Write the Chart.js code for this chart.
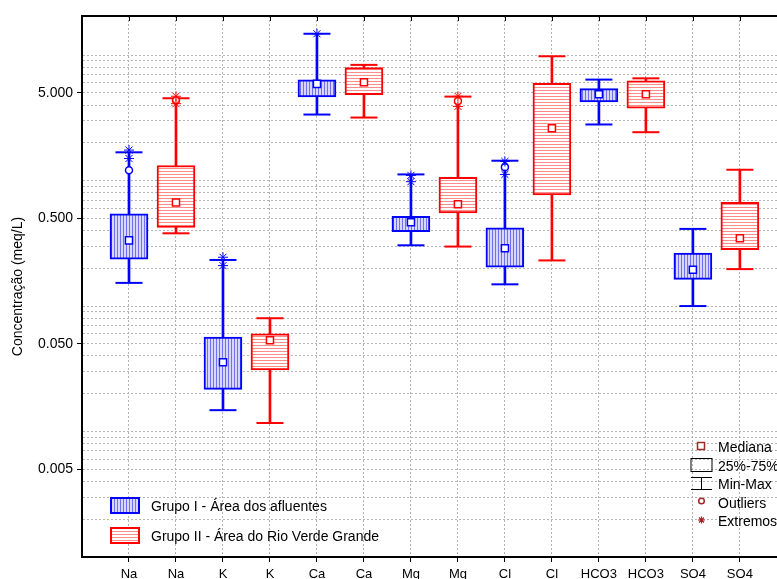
<!DOCTYPE html>
<html>
<head>
<meta charset="utf-8">
<script src="https://cdn.jsdelivr.net/npm/chart.js@4.4.0/dist/chart.umd.min.js"></script>
<style>
  html, body { margin: 0; padding: 0; background: #fff; }
  #wrap { width: 777px; height: 579px; }
</style>
</head>
<body>
<div id="wrap"><canvas id="chartCanvas" width="777" height="579"></canvas></div>
<script>
const ions = ["Na", "K", "Ca", "Mg", "Cl", "HCO3", "SO4"];
const xTickLabels = ["Na", "Na", "K", "K", "Ca", "Ca", "Mg", "Mg", "Cl", "Cl", "HCO3", "HCO3", "SO4", "SO4"];
const yTickValues = [0.005, 0.05, 0.5, 5];
const yTickLabels = ["0.005", "0.050", "0.500", "5.000"];
const groupNames = ["Grupo I - Área dos afluentes", "Grupo II - Área do Rio Verde Grande"];
const symbolNames = ["Mediana", "25%-75%", "Min-Max", "Outliers", "Extremos"];

// Grupo I (azul)
const g1Min = [0.153, 0.0148, 3.36, 0.305, 0.149, 2.80, 0.100];
const g1Q1  = [0.236, 0.0217, 4.65, 0.392, 0.204, 4.24, 0.163];
const g1Med = [0.334, 0.0357, 5.90, 0.466, 0.289, 4.87, 0.195];
const g1Q3  = [0.543, 0.0565, 6.35, 0.520, 0.420, 5.41, 0.264];
const g1Max = [1.68, 0.233, 14.8, 1.12, 1.44, 6.38, 0.412];
const g1Outliers = [[1.21], [], [], [], [1.28], [], []];
const g1Extremes = [[1.75, 1.50], [0.245, 0.21], [14.8], [1.10, 0.98], [1.42, 1.12], [], []];

// Grupo II (vermelho)
const g2Min = [0.380, 0.0117, 3.18, 0.298, 0.231, 2.43, 0.197];
const g2Q1  = [0.423, 0.0310, 4.85, 0.553, 0.769, 3.77, 0.281];
const g2Med = [0.668, 0.0534, 6.07, 0.648, 2.61, 4.87, 0.347];
const g2Q3  = [1.32, 0.0601, 7.95, 1.06, 5.96, 6.23, 0.672];
const g2Max = [4.53, 0.080, 8.36, 4.67, 9.79, 6.53, 1.22];
const g2Outliers = [[4.35], [], [], [4.3], [], [], []];
const g2Extremes = [[4.7, 4.1], [], [], [4.7, 3.9], [], [], []];

// linhas de grade do eixo log: 1..9 x 10^n
const yGridValues = [];
[0.001, 0.01, 0.1, 1, 10].forEach(d => {
    for (let m = 1; m <= 9; m++) {
        let v = +(m * d).toPrecision(2);
        if (v < 15) yGridValues.push(v);
    }
});

Chart.defaults.font.family = "'Liberation Sans', Arial, sans-serif";
Chart.defaults.color = "#000";

function hatch(vertical, bg, line) {
    let c = document.createElement("canvas");
    c.width = 3; c.height = 3;
    let g = c.getContext("2d");
    g.fillStyle = bg; g.fillRect(0, 0, 3, 3);
    g.fillStyle = line;
    if (vertical) g.fillRect(0, 0, 1, 3); else g.fillRect(0, 0, 3, 1);
    return g.createPattern(c, "repeat");
}
const bluePattern = hatch(true, "#d6d6ff", "#7070f0");
const redPattern = hatch(false, "#ffffff", "#ff8c8c");

function pos(i, g) { return 2 * i + g; }
function ranges(lo, hi, g) { return ions.map((_, i) => ({ x: pos(i, g), y: [lo[i], hi[i]] })); }
function points(vals, g) { return ions.map((_, i) => ({ x: pos(i, g), y: vals[i] })); }
function lists(ls, g) { return ls.flatMap((l, i) => l.map(v => ({ x: pos(i, g), y: v }))); }

function groupSets(name, color, pattern, g, min, q1, med, q3, max, outl, extr) {
    return [
        { type: "bar", label: name + " whisker", data: ranges(min, max, g), backgroundColor: color,
          borderWidth: 0, barThickness: 2, grouped: false, order: 5 },
        { type: "scatter", label: name + " caps", data: [...points(min, g), ...points(max, g)],
          pointStyle: "line", pointRadius: 13.5, pointBorderColor: color, pointBorderWidth: 2, order: 4 },
        { type: "bar", label: name, data: ranges(q1, q3, g), backgroundColor: pattern, borderColor: color,
          borderWidth: 2, borderSkipped: false, barThickness: 38, grouped: false, order: 3 },
        { type: "scatter", label: name + " mediana", data: points(med, g), pointStyle: "rect", pointRadius: 5,
          pointBackgroundColor: "#fff", pointBorderColor: color, pointBorderWidth: 1.5, order: 2 },
        { type: "scatter", label: name + " outliers", data: lists(outl, g), pointStyle: "circle", pointRadius: 3.5,
          pointBackgroundColor: "#fff", pointBorderColor: color, pointBorderWidth: 1.5, order: 1 },
        { type: "scatter", label: name + " extremos", data: lists(extr, g), pointStyle: "star", pointRadius: 5,
          pointBorderColor: color, pointBorderWidth: 1, order: 0 }
    ];
}

function isLabeled(v) {
    return yTickValues.findIndex(t => Math.abs(t - v) < t * 1e-6);
}

// moldura superior e legendas
const framePlugin = {
    id: "frame",
    afterDraw(chart) {
        const { ctx, chartArea: a, scales: { x } } = chart;
        ctx.save();
        ctx.strokeStyle = "#000";
        ctx.lineWidth = 2;
        ctx.beginPath(); ctx.moveTo(a.left - 1, a.top); ctx.lineTo(a.right, a.top); ctx.stroke();
        ctx.lineWidth = 1;
        xTickLabels.forEach((_, i) => {
            let px = Math.round(x.getPixelForValue(i + 1)) + 0.5;
            ctx.beginPath(); ctx.moveTo(px, a.top); ctx.lineTo(px, a.top + 5); ctx.stroke();
        });

        // legenda dos grupos
        ctx.font = "14px 'Liberation Sans', Arial, sans-serif";
        ctx.textBaseline = "middle";
        ctx.fillStyle = "#000";
        const sw = [[bluePattern, "#0000ff", a.bottom - 60], [redPattern, "#ff0000", a.bottom - 30]];
        sw.forEach(([pat, col, y], k) => {
            ctx.fillStyle = pat;
            ctx.fillRect(a.left + 28, y, 30, 17);
            ctx.strokeStyle = col; ctx.lineWidth = 2;
            ctx.strokeRect(a.left + 29, y + 1, 28, 15);
            ctx.fillStyle = "#000";
            ctx.fillText(groupNames[k], a.left + 69, y + 10);
        });

        // legenda dos simbolos
        const cx = a.right - 76, tx = a.right - 59;
        const ty = [a.bottom - 109, a.bottom - 90, a.bottom - 72, a.bottom - 53, a.bottom - 35];
        const dark = "#a02828";
        ctx.lineWidth = 1.5;
        ctx.strokeStyle = dark; ctx.fillStyle = "#fff";
        ctx.fillRect(cx - 3.5, ty[0] - 5.5, 7, 7); ctx.strokeRect(cx - 3.5, ty[0] - 5.5, 7, 7);
        ctx.lineWidth = 1; ctx.strokeStyle = "#000";
        ctx.strokeRect(cx - 10, ty[1] - 8.5, 21, 13);
        ctx.beginPath();
        ctx.moveTo(cx - 10, ty[2] - 7.5); ctx.lineTo(cx + 11, ty[2] - 7.5);
        ctx.moveTo(cx - 10, ty[2] + 4.5); ctx.lineTo(cx + 11, ty[2] + 4.5);
        ctx.moveTo(cx + 0.5, ty[2] - 7.5); ctx.lineTo(cx + 0.5, ty[2] + 4.5);
        ctx.stroke();
        ctx.strokeStyle = dark; ctx.lineWidth = 1.5;
        ctx.beginPath(); ctx.arc(cx + 0.5, ty[3] - 3, 2.8, 0, Math.PI * 2); ctx.stroke();
        ctx.lineWidth = 1.2;
        ctx.beginPath();
        for (let k = 0; k < 4; k++) {
            let ang = k * Math.PI / 4, r = 3.5;
            ctx.moveTo(cx + 0.5 - r * Math.cos(ang), ty[4] - 2 - r * Math.sin(ang));
            ctx.lineTo(cx + 0.5 + r * Math.cos(ang), ty[4] - 2 + r * Math.sin(ang));
        }
        ctx.stroke();
        ctx.fillStyle = "#000";
        symbolNames.forEach((s, k) => ctx.fillText(s, tx, ty[k]));
        ctx.restore();
    }
};

new Chart(document.getElementById("chartCanvas"), {
    type: "bar",
    data: {
        datasets: [
            ...groupSets(groupNames[0], "#0000ff", bluePattern, 1, g1Min, g1Q1, g1Med, g1Q3, g1Max, g1Outliers, g1Extremes),
            ...groupSets(groupNames[1], "#ff0000", redPattern, 2, g2Min, g2Q1, g2Med, g2Q3, g2Max, g2Outliers, g2Extremes)
        ]
    },
    options: {
        responsive: false,
        animation: false,
        events: [],
        layout: { autoPadding: false, padding: { top: 16, left: 0, right: 0, bottom: 0 } },
        plugins: { legend: { display: false }, tooltip: { enabled: false } },
        scales: {
            x: {
                type: "linear", min: 0, max: 14.79, offset: false,
                afterBuildTicks: axis => { axis.ticks = xTickLabels.map((_, i) => ({ value: i + 1 })); },
                afterFit: axis => { axis.height = 22; axis.paddingLeft = 0; axis.paddingRight = 0; },
                ticks: {
                    autoSkip: false, maxRotation: 0, padding: 5, font: { size: 13 },
                    callback: v => xTickLabels[v - 1] || ""
                },
                grid: { offset: false, color: "#b4b4b4", lineWidth: 1, tickLength: 5, tickColor: "#000", tickWidth: 1, tickBorderDash: [] },
                border: { display: true, color: "#000", width: 2, dash: [2, 2] }
            },
            y: {
                type: "logarithmic", min: 0.001, max: 20.5,
                afterBuildTicks: axis => { axis.ticks = yGridValues.map(v => ({ value: v })); },
                afterFit: axis => { axis.width = 82; axis.paddingTop = 0; axis.paddingBottom = 0; },
                ticks: {
                    autoSkip: false, padding: 4, font: { size: 14 },
                    callback: v => { let k = isLabeled(v); return k >= 0 ? yTickLabels[k] : ""; }
                },
                grid: {
                    color: "#b4b4b4", lineWidth: 1, tickLength: 5, tickWidth: 1, tickBorderDash: [],
                    tickColor: c => (c.tick && isLabeled(c.tick.value) >= 0) ? "#000" : "rgba(0,0,0,0)"
                },
                border: { display: true, color: "#000", width: 2, dash: [2, 2] },
                title: { display: true, text: "Concentração (meq/L)", font: { size: 14 }, padding: { top: 10, bottom: 0 } }
            }
        }
    },
    plugins: [framePlugin]
});
</script>
</body>
</html>
